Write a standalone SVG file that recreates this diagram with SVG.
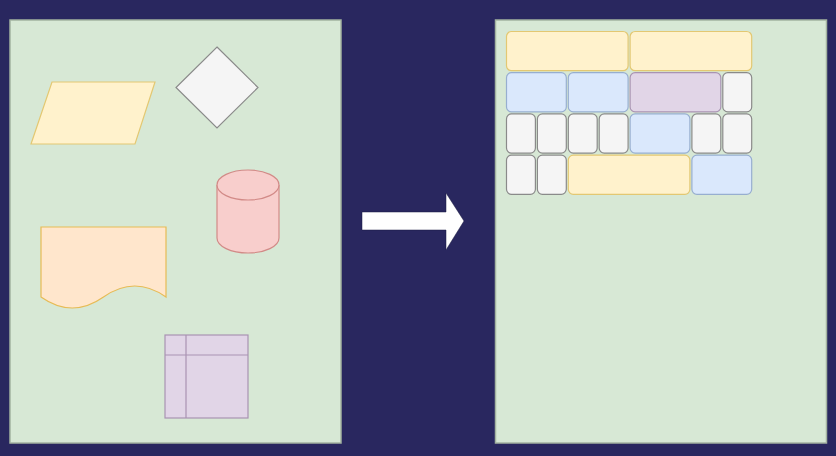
<svg xmlns="http://www.w3.org/2000/svg" width="836" height="456" viewBox="0 0 836 456">
  <style>
    .panel { fill: #d7e8d5; stroke: #a3b3a0; stroke-width: 1.5; }
    .yellow { fill: #fff2cc; stroke: #e3c872; stroke-width: 1.2; }
    .white { fill: #f5f5f5; stroke: #8a8a8a; stroke-width: 1.2; }
    .red { fill: #f8cecc; stroke: #d28a87; stroke-width: 1.2; }
    .orange { fill: #ffe6cc; stroke: #e7bb55; stroke-width: 1.2; }
    .purple { fill: #e1d5e7; stroke: #a993b3; stroke-width: 1.2; }
    .blue { fill: #dae8fc; stroke: #97aed0; stroke-width: 1.2; }
    .cell { rx: 5; ry: 5; }
  </style>
  <rect x="0" y="0" width="836" height="456" fill="#29275f"/>

  <g id="left-panel">
    <rect class="panel" x="10" y="20" width="331" height="423"/>
  </g>
  <g id="right-panel">
    <rect class="panel" x="495.5" y="20" width="331" height="423"/>
  </g>

  <g id="parallelogram">
    <polygon class="yellow" points="52,82 155,82 135,144 31,144"/>
  </g>
  <g id="diamond">
    <polygon class="white" points="217,47 258,87.5 217,128 176,87.5"/>
  </g>
  <g id="cylinder">
    <path class="red" d="M217,185 V238 A31,15 0 0 0 279,238 V185 A31,15 0 0 0 217,185 Z"/>
    <path class="red" d="M217,185 A31,15 0 0 0 279,185" fill="none"/>
  </g>
  <g id="document">
    <path class="orange" d="M41,227 H166 V297 Q134.75,275 103.5,297 Q72.25,319 41,297 Z"/>
  </g>
  <g id="table">
    <rect class="purple" x="165" y="335" width="83" height="83"/>
    <line class="purple" x1="186" y1="335" x2="186" y2="418"/>
    <line class="purple" x1="165" y1="355" x2="248" y2="355"/>
  </g>

  <g id="connectors">
    <polygon points="362,212 446,212 446,193 464,221 446,250 446,230 362,230" fill="#ffffff" stroke="#1a1a40" stroke-width="0.5"/>
  </g>

  <g id="grid">
    <g id="r1c1"><rect class="yellow cell" x="506.5" y="31.5" width="121.6" height="39.2"/></g>
    <g id="r1c2"><rect class="yellow cell" x="630.1" y="31.5" width="121.6" height="39.2"/></g>

    <g id="r2c1"><rect class="blue cell" x="506.5" y="72.7" width="59.8" height="39.2"/></g>
    <g id="r2c2"><rect class="blue cell" x="568.3" y="72.7" width="59.8" height="39.2"/></g>
    <g id="r2c3"><rect class="purple cell" x="630.1" y="72.7" width="90.7" height="39.2"/></g>
    <g id="r2c4"><rect class="white cell" x="722.8" y="72.7" width="28.9" height="39.2"/></g>

    <g id="r3c1"><rect class="white cell" x="506.5" y="113.9" width="28.9" height="39.2"/></g>
    <g id="r3c2"><rect class="white cell" x="537.4" y="113.9" width="28.9" height="39.2"/></g>
    <g id="r3c3"><rect class="white cell" x="568.3" y="113.9" width="28.9" height="39.2"/></g>
    <g id="r3c4"><rect class="white cell" x="599.2" y="113.9" width="28.9" height="39.2"/></g>
    <g id="r3c5"><rect class="blue cell" x="630.1" y="113.9" width="59.8" height="39.2"/></g>
    <g id="r3c6"><rect class="white cell" x="691.9" y="113.9" width="28.9" height="39.2"/></g>
    <g id="r3c7"><rect class="white cell" x="722.8" y="113.9" width="28.9" height="39.2"/></g>

    <g id="r4c1"><rect class="white cell" x="506.5" y="155.1" width="28.9" height="39.2"/></g>
    <g id="r4c2"><rect class="white cell" x="537.4" y="155.1" width="28.9" height="39.2"/></g>
    <g id="r4c3"><rect class="yellow cell" x="568.3" y="155.1" width="121.6" height="39.2"/></g>
    <g id="r4c4"><rect class="blue cell" x="691.9" y="155.1" width="59.8" height="39.2"/></g>
  </g>
</svg>
